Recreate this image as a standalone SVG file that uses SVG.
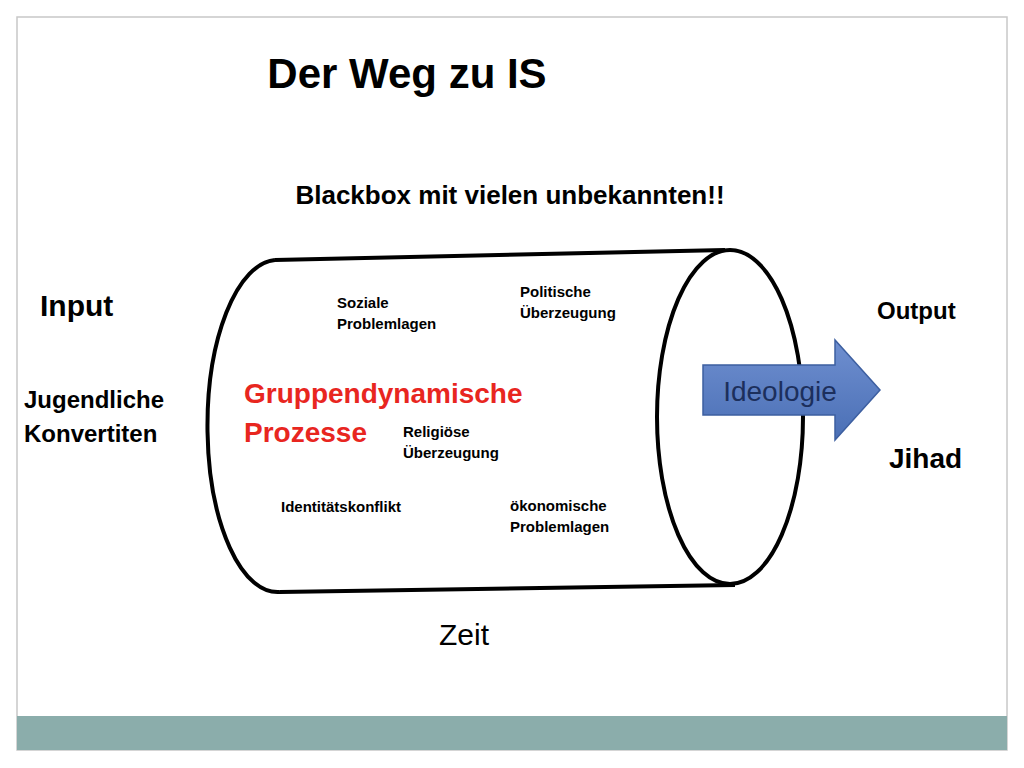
<svg xmlns="http://www.w3.org/2000/svg" width="1024" height="768" viewBox="0 0 1024 768">
<defs>
<linearGradient id="g" x1="0" y1="0" x2="0" y2="1"><stop offset="0" stop-color="#6f8fd0"/><stop offset="1" stop-color="#4a6fb5"/></linearGradient>
<style>text{font-family:"Liberation Sans",Arial,sans-serif;font-weight:bold;fill:#000}.s{font-size:15px}.m{font-size:24px}.n{font-weight:normal}</style>
</defs>
<rect width="1024" height="768" fill="#fff"/>
<rect x="17" y="17" width="990" height="733" fill="none" stroke="#c8c8c8" stroke-width="1.5"/>
<rect x="17" y="716" width="990" height="34" fill="#8badab"/>
<text x="407" y="88" font-size="42" text-anchor="middle">Der Weg zu IS</text>
<text x="510" y="204" font-size="26" text-anchor="middle">Blackbox mit vielen unbekannten!!</text>
<g id="cylinder" fill="none" stroke="#000" stroke-width="4">
<path d="M275,260 A70,166 0 0 0 280,592"/>
<line x1="275" y1="260" x2="725" y2="250"/>
<line x1="280" y1="592" x2="735" y2="585"/>
<ellipse cx="730" cy="417" rx="73" ry="167"/>
</g>
<g id="arrow">
<path d="M703,365 H835 V340 L880,390 L835,440 V415 H703 Z" fill="url(#g)" stroke="#3d5fa0" stroke-width="1.5"/>
<text x="780" y="401" font-size="28" class="n" text-anchor="middle" style="fill:#1c2f5c">Ideologie</text>
</g>
<text x="40" y="316" font-size="30">Input</text>
<text x="877" y="319" class="m">Output</text>
<text x="24" y="408" class="m">Jugendliche</text>
<text x="24" y="442" class="m">Konvertiten</text>
<text x="889" y="468" font-size="28">Jihad</text>
<text x="244" y="403" font-size="28" style="fill:#e8261f">Gruppendynamische</text>
<text x="244" y="442" font-size="28" style="fill:#e8261f">Prozesse</text>
<text x="337" y="308" class="s">Soziale</text>
<text x="337" y="329" class="s">Problemlagen</text>
<text x="520" y="297" class="s">Politische</text>
<text x="520" y="318" class="s">Überzeugung</text>
<text x="403" y="437" class="s">Religiöse</text>
<text x="403" y="458" class="s">Überzeugung</text>
<text x="281" y="512" class="s">Identitätskonflikt</text>
<text x="510" y="511" class="s">ökonomische</text>
<text x="510" y="532" class="s">Problemlagen</text>
<text x="464" y="645" font-size="30" class="n" text-anchor="middle">Zeit</text>
</svg>
